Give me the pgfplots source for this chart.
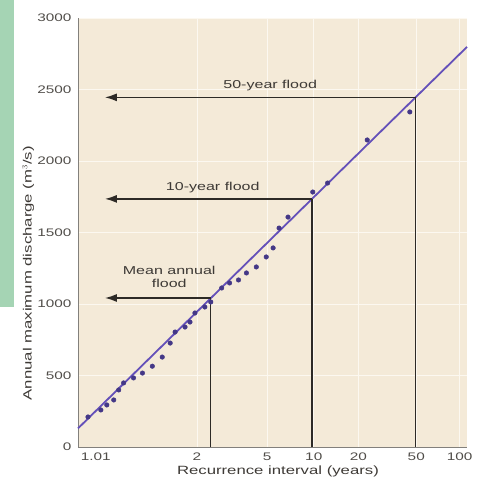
\documentclass[border=0pt]{standalone}
\usepackage{fontspec}
\setmainfont{Liberation Sans}[FakeStretch=1.4]
\usepackage{pgfplots}
\pgfplotsset{compat=1.18}
\usetikzlibrary{arrows.meta}
\definecolor{beige}{RGB}{244,234,216}
\definecolor{gridc}{RGB}{252,248,240}
\definecolor{greenstrip}{RGB}{165,212,180}
\definecolor{linec}{RGB}{100,80,185}
\definecolor{ptc}{RGB}{68,56,135}
\definecolor{arrowc}{RGB}{45,42,38}
\definecolor{txt}{RGB}{62,58,54}
\definecolor{tickc}{RGB}{80,77,73}
\definecolor{axc}{RGB}{130,128,124}
\pgfplotstableread{
x y
-1.389 210
-1.182 259
-1.086 294
-0.974 329
-0.894 399
-0.815 448
-0.655 483
-0.511 517
-0.352 565
-0.192 629
-0.064 727
0.015 804
0.175 839
0.255 874
0.335 937
0.494 979
0.590 1014
0.766 1112
0.893 1147
1.037 1168
1.165 1217
1.324 1259
1.484 1329
1.595 1392
1.691 1531
1.835 1608
2.234 1783
2.473 1846
3.112 2147
3.798 2343
}\floods
\begin{document}
\begin{tikzpicture}
\fill[greenstrip] (0bp,181bp) rectangle (14bp,488bp);
\begin{axis}[
  at={(78bp,41bp)}, anchor=south west,
  scale only axis, width=389bp, height=429bp,
  xmin=-1.55, xmax=4.72, ymin=0, ymax=3000,
  axis background/.style={fill=beige},
  axis lines*=left,
  axis line style={draw=axc, line width=0.8bp},
  major tick length=0pt,
  xtick={0.3665,1.5,2.25,2.97,3.902,4.6},
  xticklabels={2,5,10,20,50,100},
  extra x ticks={-1.529},
  extra x tick labels={1.01},
  extra x tick style={grid=none, xticklabel style={anchor=north west, xshift=-2bp}},
  ytick={0,500,1000,1500,2000,2500,3000},
  /pgf/number format/1000 sep={},
  /pgf/number format/assume math mode=true,
  tick label style={font=\fontsize{11}{13}\selectfont, text=tickc},
  xticklabel style={yshift=-2bp},
  yticklabel style={xshift=-3bp},
  grid=major,
  major grid style={draw=gridc, line width=0.8bp},
  xlabel={Recurrence interval (years)},
  ylabel={Annual maximum discharge (m$^3$/s)},
  label style={font=\fontsize{12}{14}\selectfont, text=txt},
  xlabel style={at={(axis description cs:0.514,-0.056)}, anchor=center},
  ylabel style={at={(axis description cs:-0.128,0.405)}, anchor=center},
  clip=false,
]
\addplot[linec, line width=1.8bp] coordinates {(-1.55,130) (4.72,2798)};
\addplot[only marks, mark=*, mark size=2.3bp, color=ptc] table[x=x,y=y] {\floods};
% vertical lines
\addplot[arrowc, line width=1.3bp] coordinates {(0.59,0) (0.59,1042)};
\addplot[arrowc, line width=1.3bp] coordinates {(2.22,0) (2.22,1735)};
\addplot[arrowc, line width=1.3bp] coordinates {(3.89,0) (3.89,2445)};
% arrows
\addplot[arrowc, line width=1.7bp, -{Latex[length=12bp,width=8bp]}] coordinates {(0.59,1042) (-1.118,1042)};
\addplot[arrowc, line width=1.7bp, -{Latex[length=12bp,width=8bp]}] coordinates {(2.22,1735) (-1.118,1735)};
\addplot[arrowc, line width=1.7bp, -{Latex[length=12bp,width=8bp]}] coordinates {(3.89,2445) (-1.118,2445)};
\node[font=\fontsize{11.5}{13}\selectfont, text=txt] at (axis cs:1.548,2531) {50-year flood};
\node[font=\fontsize{11.5}{13}\selectfont, text=txt] at (axis cs:0.622,1811) {10-year flood};
\node[font=\fontsize{11.5}{13}\selectfont, text=txt, align=center] at (axis cs:-0.08,1189) {Mean annual\\flood};
\end{axis}
\pgfresetboundingbox
\path[use as bounding box] (0bp,0bp) rectangle (477bp,488bp);
\end{tikzpicture}
\end{document}
